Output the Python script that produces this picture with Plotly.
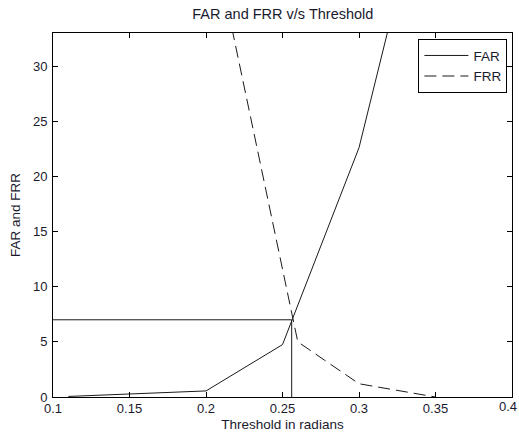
import plotly.graph_objects as go

# Data
far_x = [0.11, 0.2, 0.25, 0.3, 0.35]
far_y = [0.05, 0.55, 4.75, 22.6, 50.7]

frr_x = [0.2, 0.26, 0.3, 0.35]
frr_y = [44.6, 5.0, 1.2, 0.0]

eer_x = 0.256
eer_y = 7.0

x_ticks = [0.1, 0.15, 0.2, 0.25, 0.3, 0.35, 0.4]
x_tick_labels = ["0.1", "0.15", "0.2", "0.25", "0.3", "0.35", "0.4"]
y_ticks = [0, 5, 10, 15, 20, 25, 30]

line_col = "#1a1a1a"
txt_col = "#1a1a2e"
family = "Liberation Sans, Arial, sans-serif"
tick_font = dict(family=family, size=13, color=txt_col)
label_font = dict(family=family, size=13.5, color=txt_col)

fig = go.Figure()
fig.add_trace(go.Scatter(x=far_x, y=far_y, mode="lines", name="FAR",
                         line=dict(color=line_col, width=1)))
fig.add_trace(go.Scatter(x=frr_x, y=frr_y, mode="lines", name="FRR",
                         line=dict(color=line_col, width=1, dash="12px,6px")))
# EER marker lines
fig.add_trace(go.Scatter(x=[x_ticks[0], eer_x, eer_x], y=[eer_y, eer_y, y_ticks[0]],
                         mode="lines", showlegend=False, hoverinfo="skip",
                         line=dict(color=line_col, width=1)))

axis_common = dict(showgrid=False, zeroline=False, showline=True, linecolor="black",
                   linewidth=1, mirror="ticks", ticks="inside", ticklen=5,
                   tickcolor="black", tickfont=tick_font, automargin=False,
                   ticklabeloverflow="allow")

# last x tick label is drawn as an annotation so it stays inside the window
x_text_shown = x_tick_labels[:-1] + [""]

fig.update_layout(
    width=519, height=439,
    margin=dict(l=53, r=7, t=33, b=42),
    paper_bgcolor="white", plot_bgcolor="white",
    font=label_font,
    title=dict(text="FAR and FRR v/s Threshold", x=0.545, xanchor="center",
               y=1 - 14 / 439, yanchor="middle", yref="container",
               font=dict(family=family, size=14.5, color=txt_col)),
    xaxis=dict(range=[0.1, 0.4], tickvals=x_ticks, ticktext=x_text_shown,
               ticklabelstandoff=-1,
               title=dict(text="Threshold in radians", standoff=4, font=label_font),
               **axis_common),
    yaxis=dict(range=[0, 33], tickvals=y_ticks, ticklabelstandoff=2,
               title=dict(text="FAR and FRR", standoff=9, font=label_font),
               **axis_common),
    legend=dict(x=0.99, y=0.983, xanchor="right", yanchor="top",
                bordercolor="black", borderwidth=1, bgcolor="white",
                font=label_font, itemwidth=44, tracegroupgap=0),
    showlegend=True,
    annotations=[dict(x=x_ticks[-1], xref="x", y=0, yref="paper",
                      text=x_tick_labels[-1], showarrow=False,
                      xanchor="center", yanchor="top", xshift=-4, yshift=0,
                      font=tick_font)],
)

fig.write_html("out.html", config={"displayModeBar": False})

# remove the default page margin so the figure sits at the window's top-left
with open("out.html", "r", encoding="utf-8") as f:
    html = f.read()
html = html.replace("<head>", "<head><style>html,body{margin:0;padding:0;overflow:hidden}</style>", 1)
with open("out.html", "w", encoding="utf-8") as f:
    f.write(html)
